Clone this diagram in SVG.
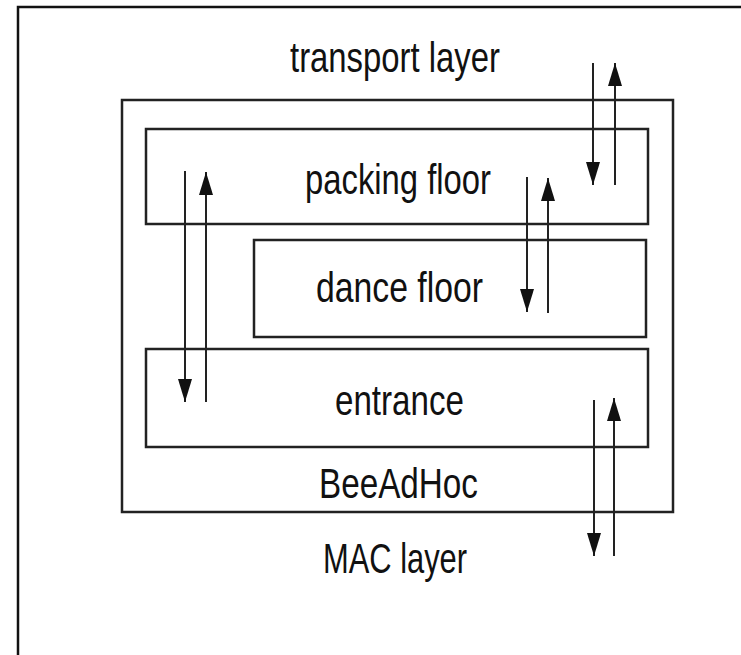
<svg xmlns="http://www.w3.org/2000/svg" width="741" height="655" viewBox="0 0 741 655">
<style>
.box{fill:none;stroke:#222;stroke-width:2.5}
.frame{fill:none;stroke:#111;stroke-width:2.5}
.lbl{font-family:"Liberation Sans",Arial,sans-serif;font-size:43px;fill:#111}
.arr{stroke:#222;stroke-width:2;fill:none;marker-end:url(#ah)}
</style>
<defs>
<marker id="ah" markerUnits="userSpaceOnUse" markerWidth="24" markerHeight="14" refX="23" refY="7" orient="auto">
<path d="M0,0 L23,7 L0,14 z" fill="#111"/>
</marker>
</defs>
<rect width="741" height="655" fill="#fff"/>
<path class="frame" d="M18,655 V7 H741"/>
<g id="transport">
<text class="lbl" x="290" y="72" textLength="210" lengthAdjust="spacingAndGlyphs">transport layer</text>
</g>
<g id="beeadhoc">
<rect class="box" x="122" y="100" width="551" height="412"/>
<text class="lbl" x="319" y="498" textLength="159" lengthAdjust="spacingAndGlyphs">BeeAdHoc</text>
</g>
<g id="packing">
<rect class="box" x="146" y="129" width="502" height="95"/>
<text class="lbl" x="305" y="194" textLength="186" lengthAdjust="spacingAndGlyphs">packing floor</text>
</g>
<g id="dance">
<rect class="box" x="254" y="240" width="392" height="97"/>
<text class="lbl" x="316" y="302" textLength="167" lengthAdjust="spacingAndGlyphs">dance floor</text>
</g>
<g id="entrance">
<rect class="box" x="146" y="349" width="502" height="98"/>
<text class="lbl" x="335" y="415" textLength="129" lengthAdjust="spacingAndGlyphs">entrance</text>
</g>
<g id="mac">
<text class="lbl" x="323" y="573" textLength="144" lengthAdjust="spacingAndGlyphs">MAC layer</text>
</g>
<g id="connectors">
<line class="arr" x1="593" y1="63" x2="593" y2="185"/>
<line class="arr" x1="615" y1="185" x2="615" y2="63"/>
<line class="arr" x1="185" y1="171" x2="185" y2="402"/>
<line class="arr" x1="206" y1="402" x2="206" y2="172"/>
<line class="arr" x1="527" y1="177" x2="527" y2="312"/>
<line class="arr" x1="548" y1="313" x2="548" y2="178"/>
<line class="arr" x1="614" y1="556" x2="614" y2="398"/>
<line class="arr" x1="594" y1="400" x2="594" y2="556"/>
</g>
</svg>
